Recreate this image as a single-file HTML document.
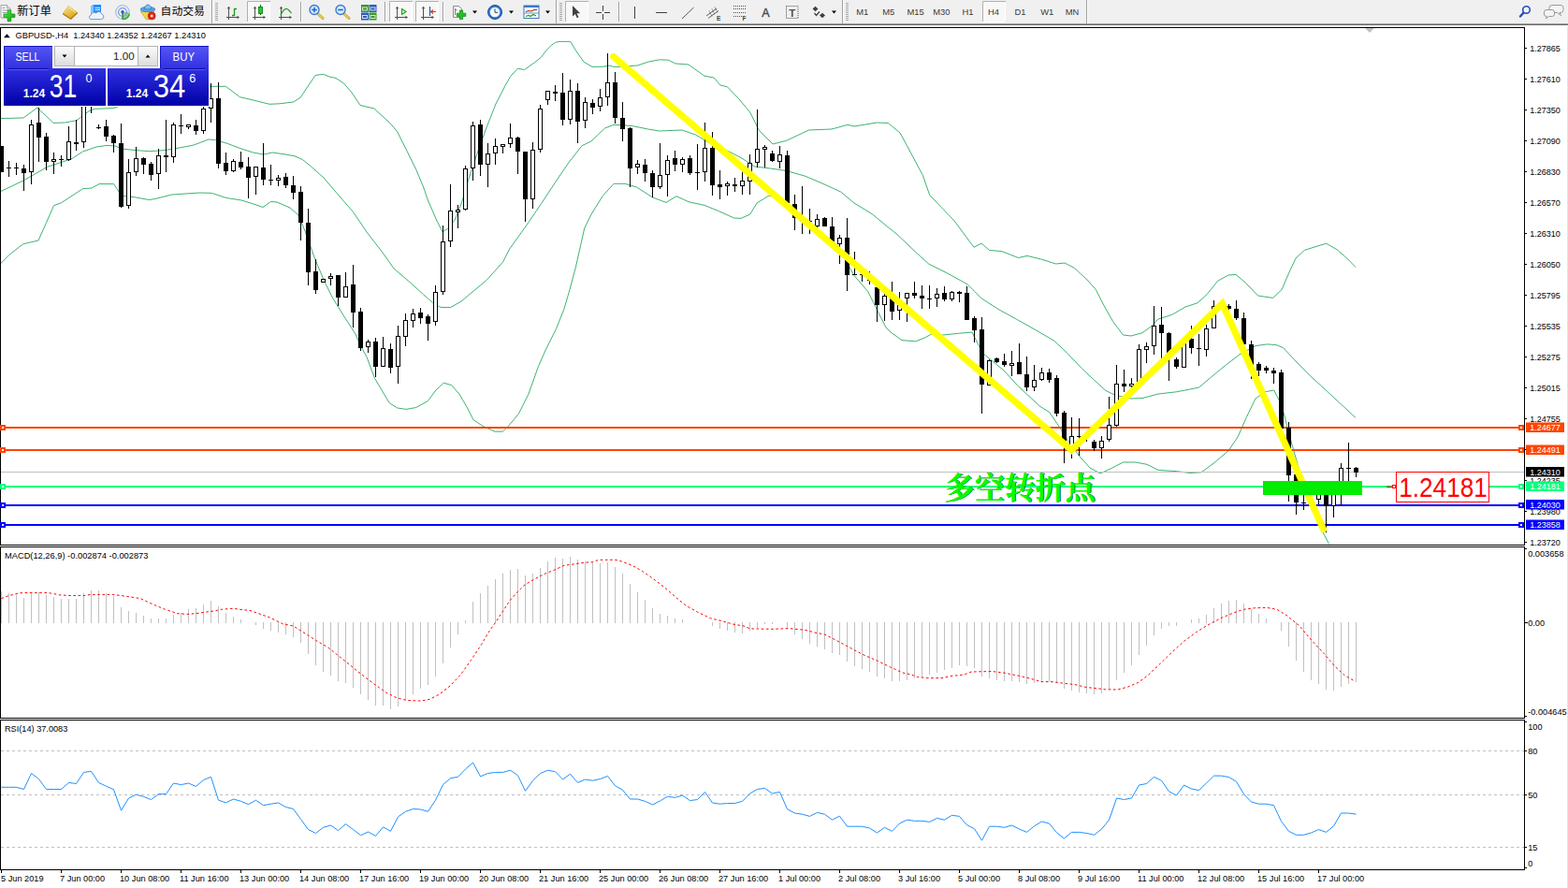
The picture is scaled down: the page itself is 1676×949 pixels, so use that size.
<!DOCTYPE html>
<html><head><meta charset="utf-8"><title>GBPUSD H4</title>
<style>html,body{margin:0;padding:0;background:#fff}body{width:1676px;height:949px;overflow:hidden;position:relative;font-family:"Liberation Sans",sans-serif}svg{position:absolute;left:0;top:0;display:block}</style>
</head><body>
<svg width="1676" height="949" viewBox="0 0 1676 949" font-family="Liberation Sans, sans-serif">
<rect x="0" y="0" width="1676" height="949" fill="#fff"/><g fill="none" stroke="#3cb371" stroke-width="1" stroke-linejoin="round"><polyline points="0.0,126.6 25.0,126.0 40.0,115.0 57.0,131.4 69.5,131.0 82.0,128.7 95.0,118.7 101.0,116.4 121.7,115.6 140.0,108.0 170.0,98.0 200.0,93.0 223.0,92.3 241.4,92.3 256.4,103.7 270.6,107.0 288.0,111.3 299.0,110.8 313.5,109.0 321.0,104.4 337.0,80.5 345.5,79.3 352.0,82.0 359.0,83.5 367.5,89.0 376.0,99.0 385.0,112.5 400.0,116.0 418.0,132.7 424.8,141.0 435.0,161.4 445.0,181.7 452.6,200.0 457.4,214.0 467.0,236.0 473.0,248.0 479.0,244.0 486.5,234.5 494.0,215.0 501.0,191.0 510.8,161.8 520.5,135.0 530.0,111.0 540.0,91.5 545.7,81.5 553.4,73.2 560.5,74.5 571.5,66.7 578.2,61.4 584.0,53.8 589.2,48.5 593.5,45.4 598.2,44.4 609.7,44.4 615.4,53.8 624.0,66.2 633.0,71.4 645.0,71.2 651.7,70.0 655.5,71.4 663.0,71.4 681.3,70.0 692.7,66.2 704.7,63.8 714.4,64.2 721.7,67.9 736.0,69.0 753.0,81.2 763.0,83.0 770.0,91.0 777.4,92.8 789.5,105.4 801.7,120.0 811.4,139.4 826.0,154.0 840.5,150.3 864.7,139.0 889.0,138.0 906.0,133.3 913.0,135.0 937.4,131.0 949.5,131.6 962.0,142.0 969.5,155.8 986.4,187.4 993.7,208.5 1020.0,235.9 1041.0,264.3 1049.0,260.0 1057.6,267.5 1070.6,268.5 1088.5,275.5 1098.0,273.4 1112.8,277.0 1128.6,282.0 1138.0,281.0 1148.6,286.5 1163.0,300.0 1171.4,309.7 1180.0,326.7 1189.6,343.6 1200.5,358.0 1209.0,359.0 1221.0,355.7 1230.8,348.5 1238.0,341.0 1252.6,336.4 1267.0,328.0 1280.0,323.8 1290.0,314.7 1301.6,300.3 1313.0,294.0 1321.0,293.4 1331.8,302.6 1344.5,316.0 1360.7,318.4 1370.0,309.6 1378.0,291.0 1385.0,276.0 1394.4,267.4 1406.0,263.7 1417.6,260.2 1429.0,266.7 1440.8,277.0 1449.0,285.7"/><polyline points="0.0,204.9 25.0,193.0 50.6,178.3 76.0,170.0 88.5,162.0 103.0,157.0 114.0,155.4 123.0,156.0 130.0,159.0 145.0,160.6 160.0,161.7 175.8,160.6 191.6,158.0 207.0,155.0 223.0,149.0 229.5,149.5 242.0,153.0 258.0,159.0 270.6,163.0 281.7,165.0 291.0,163.0 302.0,164.5 315.0,166.8 323.6,170.7 333.7,179.0 346.0,190.0 360.5,207.0 377.4,226.4 392.0,248.0 409.0,270.0 421.0,287.0 438.0,301.5 452.6,314.8 462.3,323.3 469.5,327.7 472.0,328.5 481.7,328.5 493.0,322.0 508.0,309.5 520.6,299.0 537.5,280.0 544.7,266.0 564.0,239.0 578.6,217.5 593.0,195.7 607.7,174.0 622.0,155.7 632.0,151.0 646.5,137.0 656.0,133.3 675.6,134.5 692.6,138.0 704.7,140.0 729.0,139.0 743.5,144.0 758.0,152.7 777.4,161.0 792.0,168.5 806.5,178.0 823.5,180.0 840.5,182.5 860.0,188.0 879.0,196.0 898.6,205.0 913.0,217.0 932.6,229.0 947.0,241.0 959.0,250.6 980.0,270.6 992.7,282.0 1012.6,292.0 1034.4,304.0 1049.0,318.8 1068.0,331.0 1087.7,341.8 1107.0,352.7 1126.5,364.0 1141.0,377.6 1155.6,393.0 1170.0,406.6 1182.0,417.5 1192.0,422.4 1209.0,426.0 1221.0,425.5 1238.0,421.0 1257.4,418.8 1272.0,416.0 1281.7,414.0 1296.0,401.8 1310.8,389.7 1325.0,378.8 1342.0,369.6 1354.4,367.9 1364.0,368.6 1371.4,371.5 1386.0,387.0 1400.5,401.8 1412.6,412.7 1429.0,427.9 1449.0,446.4"/><polyline points="0.0,282.5 9.6,272.6 24.7,260.8 41.0,257.0 49.3,238.4 57.5,219.7 65.6,216.7 88.5,201.7 98.0,201.0 106.0,196.6 121.7,196.6 126.4,204.0 131.0,209.6 142.0,210.4 159.6,213.6 168.0,212.0 183.7,208.0 213.7,206.0 226.4,206.4 242.0,211.5 258.0,214.0 270.6,217.8 281.0,221.5 289.6,215.4 296.0,216.0 310.0,222.0 319.0,230.0 326.5,248.0 336.0,275.0 346.0,299.0 355.6,318.5 367.7,338.0 380.0,357.0 384.7,368.0 392.0,381.5 400.5,404.3 416.3,430.7 424.8,436.0 434.2,437.4 444.8,435.5 457.4,428.5 465.9,417.0 474.3,409.2 482.7,411.7 491.0,421.2 499.6,436.0 505.9,448.6 516.4,455.5 529.0,461.2 537.5,461.2 543.8,454.9 554.4,442.2 564.9,421.2 575.4,391.7 583.8,372.7 594.4,351.6 602.8,330.6 609.0,309.5 615.5,285.0 624.7,244.0 632.0,229.0 644.0,209.7 656.0,196.3 668.0,196.3 680.5,200.0 697.4,210.9 712.0,216.4 723.0,209.7 736.0,215.7 753.0,219.4 767.7,225.4 784.7,233.0 792.0,233.4 801.7,229.0 809.0,217.0 822.0,209.0 840.0,215.0 860.0,235.0 880.0,250.0 903.5,277.5 913.0,294.5 927.7,311.5 937.4,331.0 947.0,350.0 952.0,355.0 964.0,363.6 978.7,364.8 988.4,361.0 995.6,357.0 1007.7,358.0 1024.7,356.3 1039.0,355.0 1045.0,367.0 1051.0,378.0 1058.6,384.0 1073.0,396.0 1087.7,412.0 1102.0,425.4 1112.0,434.5 1121.7,440.6 1130.0,452.7 1141.0,470.0 1153.0,486.6 1165.0,500.0 1176.0,506.0 1187.0,501.0 1200.5,494.0 1213.8,494.0 1226.0,496.3 1238.0,502.4 1257.4,503.6 1272.0,505.5 1284.0,504.8 1296.0,496.0 1313.0,481.8 1323.0,467.0 1332.6,445.4 1342.0,426.0 1352.0,418.8 1361.7,417.0 1367.7,428.5 1372.6,443.0 1378.7,466.9 1385.8,492.0 1390.8,508.4 1400.0,535.0 1413.5,568.0 1420.6,581.4"/></g><rect x="1" y="504" width="1628" height="1" fill="#c0c0c0"/><rect x="1" y="456" width="1628" height="2" fill="#ff4500"/><rect x="1" y="480" width="1628" height="2" fill="#ff4500"/><rect x="1" y="519" width="1628" height="2" fill="#00ff7f"/><rect x="1" y="539" width="1628" height="2" fill="#0000ff"/><rect x="1" y="560" width="1628" height="2" fill="#0000ff"/><g shape-rendering="crispEdges"><path d="M1.5 156V184M9.5 172V189M17.5 174V187M25.5 176V204M33.5 128V197M41.5 115V173M49.5 142V182M57.5 163V186M65.5 166V178M73.5 135V172M81.5 128V161M89.5 105V158M97.5 100V121M105.5 133V138M113.5 128V151M121.5 144V163M129.5 132V222M137.5 170V223M145.5 157V188M153.5 168V186M161.5 173V193M169.5 159V202M177.5 128V184M185.5 131V174M193.5 122V143M201.5 133V138M209.5 128V144M217.5 112V143M225.5 89V131M233.5 88V180M241.5 163V187M249.5 170V184M257.5 162V181M265.5 168V212M273.5 178V208M281.5 153V198M289.5 176V198M297.5 187V199M305.5 185V201M313.5 188V213M321.5 199V257M329.5 223V305M337.5 277V314M345.5 298V302M353.5 292V305M361.5 294V327M369.5 291V318M377.5 283V350M385.5 329V375M393.5 363V377M401.5 361V403M409.5 360V392M417.5 367V399M425.5 348V410M433.5 335V370M441.5 330V350M449.5 329V346M457.5 336V364M465.5 305V348M473.5 241V315M481.5 197V264M489.5 219V244M497.5 177V225M505.5 130V193M513.5 128V188M521.5 153V200M529.5 148V176M537.5 154V164M545.5 132V158M553.5 146V186M561.5 162V237M569.5 152V223M577.5 112V163M585.5 97V112M593.5 91V108M601.5 78V134M609.5 85V133M617.5 89V153M625.5 104V137M633.5 106V122M641.5 95V119M649.5 57V113M657.5 77V132M665.5 109V151M673.5 136V200M681.5 171V186M689.5 170V194M697.5 182V211M705.5 153V202M713.5 166V210M721.5 161V183M729.5 168V184M737.5 166V187M745.5 154V203M753.5 131V194M761.5 141V209M769.5 182V213M777.5 194V209M785.5 190V205M793.5 184V208M801.5 165V208M809.5 117V179M817.5 155V179M825.5 161V173M833.5 156V180M841.5 161V219M849.5 208V246M857.5 199V250M865.5 223V250M873.5 229V244M881.5 232V242M889.5 232V259M897.5 251V282M905.5 233V311M913.5 269V294M921.5 287V301M929.5 290V304M937.5 305V344M945.5 312V343M953.5 301V342M961.5 312V342M969.5 313V344M977.5 301V319M985.5 305V330M993.5 305V330M1001.5 308V328M1009.5 306V322M1017.5 311V322M1025.5 311V323M1033.5 306V342M1041.5 338V366M1049.5 339V442M1057.5 384V412M1065.5 382V388M1073.5 378V392M1081.5 375V402M1089.5 367V400M1097.5 381V418M1105.5 390V418M1113.5 393V407M1121.5 394V409M1129.5 401V445M1137.5 439V495M1145.5 446V490M1153.5 447V487M1161.5 462V472M1169.5 470V482M1177.5 466V490M1185.5 424V472M1193.5 390V456M1201.5 395V419M1209.5 404V416M1217.5 368V410M1225.5 366V388M1233.5 327V379M1241.5 328V384M1249.5 355V407M1257.5 382V394M1265.5 361V393M1273.5 348V378M1281.5 357V391M1289.5 347V381M1297.5 321V351M1305.5 322V328M1313.5 325V331M1321.5 321V342M1329.5 334V368M1337.5 364V405M1345.5 387V402M1353.5 391V399M1361.5 393V410M1369.5 395V458M1377.5 451V536M1385.5 505V550M1393.5 529V545M1401.5 530V538M1409.5 518V539M1417.5 518V569M1425.5 522V553M1433.5 495V540M1441.5 473V514M1449.5 499V510" stroke="#000" stroke-width="1" fill="none"/><path d="M-1 156h5V184h-5zM23 180h5V185h-5zM39 131h5V147h-5zM47 146h5V173h-5zM79 152h5V154h-5zM111 135h5V146h-5zM119 145h5V153h-5zM127 153h5V221h-5zM151 169h5V176h-5zM159 175h5V187h-5zM175 166h5V168h-5zM207 134h5V140h-5zM231 105h5V175h-5zM239 174h5V183h-5zM255 173h5V179h-5zM263 178h5V190h-5zM279 179h5V192h-5zM303 189h5V198h-5zM311 198h5V206h-5zM319 205h5V238h-5zM327 238h5V291h-5zM335 290h5V310h-5zM359 294h5V318h-5zM375 304h5V334h-5zM383 333h5V372h-5zM399 365h5V392h-5zM415 373h5V393h-5zM447 334h5V340h-5zM455 338h5V346h-5zM511 133h5V176h-5zM551 147h5V162h-5zM559 162h5V213h-5zM591 98h5V100h-5zM599 99h5V128h-5zM615 97h5V130h-5zM631 110h5V115h-5zM655 88h5V126h-5zM663 126h5V138h-5zM671 137h5V180h-5zM687 176h5V185h-5zM695 185h5V200h-5zM719 169h5V176h-5zM735 169h5V185h-5zM759 158h5V198h-5zM767 197h5V200h-5zM783 197h5V199h-5zM823 164h5V172h-5zM839 166h5V217h-5zM847 218h5V233h-5zM879 233h5V242h-5zM887 242h5V258h-5zM903 254h5V294h-5zM935 307h5V326h-5zM951 317h5V333h-5zM975 313h5V316h-5zM983 316h5V319h-5zM1007 313h5V320h-5zM1023 312h5V314h-5zM1031 313h5V342h-5zM1039 340h5V353h-5zM1047 352h5V411h-5zM1063 383h5V387h-5zM1071 386h5V390h-5zM1087 387h5V400h-5zM1095 400h5V414h-5zM1119 398h5V406h-5zM1127 404h5V442h-5zM1135 441h5V475h-5zM1167 472h5V479h-5zM1199 410h5V413h-5zM1239 347h5V356h-5zM1247 356h5V378h-5zM1255 384h5V392h-5zM1271 362h5V372h-5zM1311 327h5V330h-5zM1319 330h5V340h-5zM1327 340h5V368h-5zM1335 368h5V391h-5zM1343 389h5V396h-5zM1351 393h5V396h-5zM1359 396h5V399h-5zM1367 398h5V458h-5zM1375 457h5V508h-5zM1383 507h5V537h-5zM1415 520h5V541h-5zM1447 500h5V505h-5z" fill="#000"/><path d="M31.5 133.5h4V183.5h-4zM55.5 170.5h4V172.5h-4zM71.5 151.5h4V170.5h-4zM87.5 112.5h4V151.5h-4zM95.5 104.5h4V111.5h-4zM135.5 184.5h4V219.5h-4zM143.5 169.5h4V183.5h-4zM167.5 166.5h4V185.5h-4zM183.5 133.5h4V167.5h-4zM199.5 133.5h4V135.5h-4zM215.5 116.5h4V139.5h-4zM223.5 105.5h4V115.5h-4zM247.5 172.5h4V182.5h-4zM271.5 178.5h4V188.5h-4zM295.5 190.5h4V192.5h-4zM343.5 298.5h4V301.5h-4zM351.5 295.5h4V297.5h-4zM367.5 306.5h4V317.5h-4zM391.5 365.5h4V370.5h-4zM407.5 372.5h4V391.5h-4zM423.5 359.5h4V391.5h-4zM431.5 342.5h4V359.5h-4zM439.5 335.5h4V342.5h-4zM463.5 312.5h4V343.5h-4zM471.5 258.5h4V311.5h-4zM479.5 225.5h4V257.5h-4zM487.5 224.5h4V226.5h-4zM495.5 180.5h4V223.5h-4zM503.5 134.5h4V179.5h-4zM519.5 164.5h4V175.5h-4zM527.5 156.5h4V163.5h-4zM535.5 154.5h4V156.5h-4zM543.5 147.5h4V153.5h-4zM567.5 160.5h4V212.5h-4zM575.5 116.5h4V159.5h-4zM583.5 97.5h4V106.5h-4zM607.5 97.5h4V127.5h-4zM623.5 109.5h4V128.5h-4zM639.5 104.5h4V113.5h-4zM647.5 88.5h4V103.5h-4zM679.5 175.5h4V178.5h-4zM703.5 187.5h4V199.5h-4zM711.5 171.5h4V186.5h-4zM727.5 170.5h4V175.5h-4zM751.5 158.5h4V183.5h-4zM775.5 196.5h4V198.5h-4zM791.5 193.5h4V198.5h-4zM799.5 174.5h4V193.5h-4zM807.5 159.5h4V173.5h-4zM815.5 157.5h4V159.5h-4zM831.5 165.5h4V172.5h-4zM871.5 234.5h4V241.5h-4zM895.5 254.5h4V260.5h-4zM943.5 316.5h4V325.5h-4zM959.5 326.5h4V331.5h-4zM967.5 313.5h4V318.5h-4zM999.5 314.5h4V318.5h-4zM1015.5 312.5h4V319.5h-4zM1055.5 385.5h4V411.5h-4zM1079.5 388.5h4V390.5h-4zM1103.5 406.5h4V413.5h-4zM1111.5 398.5h4V405.5h-4zM1143.5 466.5h4V479.5h-4zM1175.5 471.5h4V478.5h-4zM1183.5 454.5h4V469.5h-4zM1191.5 410.5h4V454.5h-4zM1207.5 410.5h4V412.5h-4zM1215.5 373.5h4V409.5h-4zM1223.5 370.5h4V373.5h-4zM1231.5 348.5h4V369.5h-4zM1263.5 362.5h4V392.5h-4zM1287.5 351.5h4V373.5h-4zM1295.5 327.5h4V350.5h-4zM1407.5 520.5h4V533.5h-4zM1423.5 525.5h4V540.5h-4zM1431.5 500.5h4V528.5h-4z" fill="#fff" stroke="#000" stroke-width="1"/><path d="M7 179.5h5M15 179.5h5M63 170.5h5M103 136.5h5M191 134.5h5M287 192.5h5M743 184.5h5M855 236.5h5M863 236.5h5M911 293.5h5M919 293.5h5M927 299.5h5M991 319.5h5M1151 466.5h5M1159 465.5h5M1279 372.5h5M1303 325.5h5M1391 537.5h5M1399 533.5h5M1439 500.5h5" stroke="#000" stroke-width="1" fill="none"/></g><polyline points="655.6,60.6 1145.3,481 1306.5,324.5 1414.5,565.5" fill="none" stroke="#ffff00" stroke-width="7.2" stroke-linecap="round" stroke-linejoin="miter"/><rect x="1350" y="514" width="106" height="15" fill="#00ec00"/><text x="1010.3" y="533.2" font-family="'Liberation Serif', 'Noto Serif CJK SC', serif" font-size="32.3" font-weight="bold" fill="#0b4f0b" stroke="#0b4f0b" stroke-width="0.26" textLength="161.5" lengthAdjust="spacingAndGlyphs">多空转折点</text><text x="1009.6" y="532.5" font-family="'Liberation Serif', 'Noto Serif CJK SC', serif" font-size="32.3" font-weight="bold" fill="#00ff00" stroke="#00ff00" stroke-width="0.26" textLength="161.5" lengthAdjust="spacingAndGlyphs">多空转折点</text><rect x="1482" y="520" width="8" height="1" fill="#ff0000"/><rect x="1488.5" y="518.5" width="3" height="3" fill="#fff" stroke="#ff0000" stroke-width="1"/><rect x="1492.5" y="504.5" width="99" height="32" fill="#fff" stroke="#ff0000" stroke-width="1"/><text x="1542.5" y="530.8" font-family="Liberation Sans, sans-serif" font-size="28.6" fill="#ff0000" text-anchor="middle" textLength="94.5" lengthAdjust="spacingAndGlyphs">1.24181</text><g shape-rendering="crispEdges" fill="#000"><rect x="0" y="29" width="1630" height="1"/><rect x="0" y="29" width="1" height="901"/><rect x="1629" y="29" width="1" height="901"/><rect x="0" y="582" width="1630" height="1"/><rect x="0" y="583" width="1630" height="1" fill="#fff"/><rect x="0" y="584" width="1630" height="1"/><rect x="0" y="767" width="1630" height="1"/><rect x="0" y="768" width="1630" height="1" fill="#fff"/><rect x="0" y="769" width="1630" height="1"/><rect x="0" y="929" width="1630" height="1"/></g><rect x="0" y="454" width="6" height="6" fill="#ff4500" shape-rendering="crispEdges"/><rect x="2" y="456" width="2" height="2" fill="#fff" shape-rendering="crispEdges"/><rect x="1623" y="454" width="6" height="6" fill="#ff4500" shape-rendering="crispEdges"/><rect x="1625" y="456" width="2" height="2" fill="#fff" shape-rendering="crispEdges"/><rect x="0" y="478" width="6" height="6" fill="#ff4500" shape-rendering="crispEdges"/><rect x="2" y="480" width="2" height="2" fill="#fff" shape-rendering="crispEdges"/><rect x="1623" y="478" width="6" height="6" fill="#ff4500" shape-rendering="crispEdges"/><rect x="1625" y="480" width="2" height="2" fill="#fff" shape-rendering="crispEdges"/><rect x="0" y="517" width="6" height="6" fill="#00ff7f" shape-rendering="crispEdges"/><rect x="2" y="519" width="2" height="2" fill="#fff" shape-rendering="crispEdges"/><rect x="1623" y="517" width="6" height="6" fill="#00ff7f" shape-rendering="crispEdges"/><rect x="1625" y="519" width="2" height="2" fill="#fff" shape-rendering="crispEdges"/><rect x="0" y="537" width="6" height="6" fill="#0000ff" shape-rendering="crispEdges"/><rect x="2" y="539" width="2" height="2" fill="#fff" shape-rendering="crispEdges"/><rect x="1623" y="537" width="6" height="6" fill="#0000ff" shape-rendering="crispEdges"/><rect x="1625" y="539" width="2" height="2" fill="#fff" shape-rendering="crispEdges"/><rect x="0" y="558" width="6" height="6" fill="#0000ff" shape-rendering="crispEdges"/><rect x="2" y="560" width="2" height="2" fill="#fff" shape-rendering="crispEdges"/><rect x="1623" y="558" width="6" height="6" fill="#0000ff" shape-rendering="crispEdges"/><rect x="1625" y="560" width="2" height="2" fill="#fff" shape-rendering="crispEdges"/><path d="M1.5 632V666M9.5 634V666M17.5 636V666M25.5 639V666M33.5 634V666M41.5 633V666M49.5 636V666M57.5 638V666M65.5 640V666M73.5 640V666M81.5 640V666M89.5 634V666M97.5 631V666M105.5 631V666M113.5 634V666M121.5 637V666M129.5 649V666M137.5 653V666M145.5 655V666M153.5 658V666M161.5 661V666M169.5 661V666M177.5 661V666M185.5 657V666M193.5 655V666M201.5 651V666M209.5 650V666M217.5 646V666M225.5 642V666M233.5 648V666M241.5 655V666M249.5 659V666M257.5 662V666M273.5 665V668M281.5 665V672M289.5 665V674M297.5 665V676M305.5 665V678M313.5 665V681M321.5 665V687M329.5 665V699M337.5 665V711M345.5 665V718M353.5 665V722M361.5 665V728M369.5 665V730M377.5 665V735M385.5 665V742M393.5 665V748M401.5 665V754M409.5 665V754M417.5 665V758M425.5 665V755M433.5 665V748M441.5 665V742M449.5 665V736M457.5 665V732M465.5 665V723M473.5 665V709M481.5 665V692M489.5 665V678M497.5 663V666M505.5 643V666M513.5 634V666M521.5 626V666M529.5 619V666M537.5 613V666M545.5 609V666M553.5 608V666M561.5 615V666M569.5 613V666M577.5 607V666M585.5 600V666M593.5 596V666M601.5 597V666M609.5 595V666M617.5 598V666M625.5 600V666M633.5 601V666M641.5 602V666M649.5 601V666M657.5 606V666M665.5 613V666M673.5 624V666M681.5 633V666M689.5 641V666M697.5 650V666M705.5 656V666M713.5 658V666M721.5 661V666M729.5 662V666M761.5 665V669M769.5 665V672M777.5 665V674M785.5 665V676M793.5 665V677M801.5 665V674M809.5 665V671M817.5 665V667M825.5 665V667M841.5 665V671M849.5 665V678M857.5 665V683M865.5 665V688M873.5 665V691M881.5 665V694M889.5 665V698M897.5 665V700M905.5 665V707M913.5 665V712M921.5 665V715M929.5 665V718M937.5 665V723M945.5 665V725M953.5 665V728M961.5 665V728M969.5 665V727M977.5 665V725M985.5 665V724M993.5 665V721M1001.5 665V719M1009.5 665V716M1017.5 665V714M1025.5 665V711M1033.5 665V712M1041.5 665V714M1049.5 665V723M1057.5 665V725M1065.5 665V727M1073.5 665V728M1081.5 665V728M1089.5 665V729M1097.5 665V731M1105.5 665V730M1113.5 665V729M1121.5 665V728M1129.5 665V730M1137.5 665V736M1145.5 665V738M1153.5 665V740M1161.5 665V741M1169.5 665V742M1177.5 665V741M1185.5 665V737M1193.5 665V727M1201.5 665V719M1209.5 665V711M1217.5 665V700M1225.5 665V690M1233.5 665V679M1241.5 665V672M1249.5 665V669M1257.5 665V669M1273.5 662V666M1281.5 661V666M1289.5 657V666M1297.5 650V666M1305.5 645V666M1313.5 642V666M1321.5 641V666M1329.5 645V666M1337.5 651V666M1345.5 656V666M1353.5 661V666M1369.5 665V674M1377.5 665V691M1385.5 665V706M1393.5 665V718M1401.5 665V727M1409.5 665V731M1417.5 665V737M1425.5 665V738M1433.5 665V734M1441.5 665V731M1449.5 665V729" stroke="#c0c0c0" stroke-width="1" fill="none" shape-rendering="crispEdges"/><polyline points="1.5,639.6 9.5,636.5 22.0,633.7 33.0,633.4 51.0,633.4 64.0,635.9 75.0,636.5 90.5,636.5 97.0,635.4 121.4,635.4 137.0,637.6 150.0,639.6 163.4,645.8 176.6,651.3 190.0,655.7 201.0,656.4 212.0,655.3 220.8,654.0 229.6,652.9 236.2,651.3 249.4,650.2 256.0,651.3 267.0,652.4 278.0,656.2 289.0,660.2 302.4,666.8 313.5,669.0 322.3,674.5 337.7,684.4 351.0,692.2 362.0,701.0 373.0,709.8 386.5,720.9 399.7,730.8 413.0,740.3 424.0,745.8 435.0,748.5 450.5,749.0 459.0,747.4 470.0,741.8 481.0,733.0 492.5,720.9 503.5,705.4 514.5,688.9 523.0,674.5 530.0,664.6 536.6,654.6 545.0,641.8 552.0,633.7 561.0,624.8 569.7,619.8 580.8,613.8 592.0,609.4 603.0,604.3 614.0,602.8 625.0,601.2 633.7,600.6 640.0,598.3 658.0,598.3 664.6,600.0 675.7,604.3 686.7,610.5 700.0,619.8 713.0,630.0 722.0,638.0 733.0,647.0 746.5,654.6 759.7,660.8 770.8,663.5 784.0,667.2 795.0,669.0 801.7,671.9 826.0,672.3 843.6,671.6 861.0,673.4 872.0,676.3 881.0,677.8 894.0,684.4 907.6,691.7 923.0,699.9 938.5,706.5 951.8,713.0 965.0,719.0 974.0,720.9 980.5,723.5 991.5,724.6 1007.0,724.6 1015.8,722.6 1031.0,720.9 1038.0,718.0 1060.0,717.5 1073.0,719.0 1082.0,720.9 1091.0,722.6 1102.0,725.3 1113.0,728.6 1124.0,728.6 1135.0,730.0 1148.4,731.5 1161.7,734.6 1172.7,735.7 1181.5,736.8 1194.8,737.0 1205.8,734.0 1216.9,729.3 1227.9,720.9 1239.0,710.3 1252.0,697.7 1265.4,685.5 1278.7,675.6 1292.0,667.4 1305.0,660.6 1318.4,655.0 1329.4,651.3 1340.5,649.8 1353.7,649.3 1364.8,651.3 1375.8,658.0 1389.0,669.0 1402.0,684.4 1415.5,698.8 1426.6,712.0 1437.6,722.0 1446.4,727.0" fill="none" stroke="#ff0000" stroke-width="1" stroke-dasharray="2.6 2.6"/><path d="M1 802.5H1629" stroke="#c0c0c0" stroke-width="1" stroke-dasharray="3 3" shape-rendering="crispEdges"/><path d="M1 849.5H1629" stroke="#c0c0c0" stroke-width="1" stroke-dasharray="3 3" shape-rendering="crispEdges"/><path d="M1 905.5H1629" stroke="#c0c0c0" stroke-width="1" stroke-dasharray="3 3" shape-rendering="crispEdges"/><polyline points="1.5,841.3 9.5,841.3 17.5,841.3 25.5,843.5 33.5,826.5 41.5,832.5 49.5,843.5 57.5,843.5 65.5,843.5 73.5,836.4 81.5,837.5 89.5,825.4 97.5,824.3 105.5,836.4 113.5,840.2 121.5,843.7 129.5,866.2 137.5,853.0 145.5,849.2 153.5,851.4 161.5,854.5 169.5,848.6 177.5,848.6 185.5,837.0 193.5,838.6 201.5,837.0 209.5,840.4 217.5,833.6 225.5,830.3 233.5,855.2 241.5,857.8 249.5,854.0 257.5,856.3 265.5,859.6 273.5,855.2 281.5,860.7 289.5,859.2 297.5,858.0 305.5,862.5 313.5,864.5 321.5,875.5 329.5,886.5 337.5,890.5 345.5,884.3 353.5,882.0 361.5,887.6 369.5,880.6 377.5,886.5 385.5,892.7 393.5,889.0 401.5,893.4 409.5,883.9 417.5,888.3 425.5,872.9 433.5,867.3 441.5,864.5 449.5,865.0 457.5,867.3 465.5,855.2 473.5,838.6 481.5,831.6 489.5,830.3 497.5,822.0 505.5,815.0 513.5,829.8 521.5,826.5 529.5,825.4 537.5,825.4 545.5,823.2 553.5,828.7 561.5,845.3 569.5,834.2 577.5,826.5 585.5,823.2 593.5,824.7 601.5,833.0 609.5,827.2 617.5,836.4 625.5,833.0 633.5,834.2 641.5,832.5 649.5,829.4 657.5,839.7 665.5,844.2 673.5,854.0 681.5,854.0 689.5,856.3 697.5,860.0 705.5,855.9 713.5,851.2 721.5,852.3 729.5,850.0 737.5,855.6 745.5,854.5 753.5,846.4 761.5,858.0 769.5,859.2 777.5,858.5 785.5,858.5 793.5,856.3 801.5,848.0 809.5,843.5 817.5,842.4 825.5,848.0 833.5,846.4 841.5,864.7 849.5,869.0 857.5,870.2 865.5,872.4 873.5,868.4 881.5,870.2 889.5,876.2 897.5,872.2 905.5,883.2 913.5,883.2 921.5,883.2 929.5,885.0 937.5,890.0 945.5,884.3 953.5,888.3 961.5,880.0 969.5,876.2 977.5,877.3 985.5,877.3 993.5,878.4 1001.5,874.4 1009.5,876.2 1017.5,871.3 1025.5,872.4 1033.5,881.7 1041.5,885.7 1049.5,898.2 1057.5,883.2 1065.5,883.2 1073.5,884.3 1081.5,882.0 1089.5,886.0 1097.5,889.4 1105.5,882.8 1113.5,878.0 1121.5,880.0 1129.5,889.9 1137.5,896.0 1145.5,889.4 1153.5,889.4 1161.5,890.5 1169.5,892.3 1177.5,886.0 1185.5,876.2 1193.5,853.0 1201.5,854.5 1209.5,853.0 1217.5,839.0 1225.5,837.5 1233.5,830.3 1241.5,834.2 1249.5,845.9 1257.5,850.0 1265.5,839.0 1273.5,843.0 1281.5,844.6 1289.5,836.9 1297.5,829.1 1305.5,829.1 1313.5,830.5 1321.5,835.3 1329.5,848.6 1337.5,857.0 1345.5,859.2 1353.5,859.2 1361.5,860.7 1369.5,877.7 1377.5,888.3 1385.5,892.3 1393.5,892.3 1401.5,890.0 1409.5,886.5 1417.5,889.4 1425.5,882.8 1433.5,869.0 1441.5,869.0 1449.5,870.2" fill="none" stroke="#1e90ff" stroke-width="1" stroke-linejoin="round"/><g font-family="Liberation Sans, sans-serif" font-size="9.8" fill="#000"><text x="1635.2" y="54.8" textLength="32.7" lengthAdjust="spacingAndGlyphs">1.27865</text><text x="1635.2" y="87.8" textLength="32.7" lengthAdjust="spacingAndGlyphs">1.27610</text><text x="1635.2" y="120.8" textLength="32.7" lengthAdjust="spacingAndGlyphs">1.27350</text><text x="1635.2" y="153.8" textLength="32.7" lengthAdjust="spacingAndGlyphs">1.27090</text><text x="1635.2" y="186.8" textLength="32.7" lengthAdjust="spacingAndGlyphs">1.26830</text><text x="1635.2" y="219.8" textLength="32.7" lengthAdjust="spacingAndGlyphs">1.26570</text><text x="1635.2" y="252.8" textLength="32.7" lengthAdjust="spacingAndGlyphs">1.26310</text><text x="1635.2" y="285.8" textLength="32.7" lengthAdjust="spacingAndGlyphs">1.26050</text><text x="1635.2" y="318.8" textLength="32.7" lengthAdjust="spacingAndGlyphs">1.25795</text><text x="1635.2" y="351.8" textLength="32.7" lengthAdjust="spacingAndGlyphs">1.25535</text><text x="1635.2" y="384.8" textLength="32.7" lengthAdjust="spacingAndGlyphs">1.25275</text><text x="1635.2" y="417.8" textLength="32.7" lengthAdjust="spacingAndGlyphs">1.25015</text><text x="1635.2" y="450.8" textLength="32.7" lengthAdjust="spacingAndGlyphs">1.24755</text><text x="1635.2" y="483.8" textLength="32.7" lengthAdjust="spacingAndGlyphs">1.24495</text><text x="1635.2" y="516.8" textLength="32.7" lengthAdjust="spacingAndGlyphs">1.24235</text><text x="1635.2" y="549.8" textLength="32.7" lengthAdjust="spacingAndGlyphs">1.23980</text><text x="1635.2" y="582.8" textLength="32.7" lengthAdjust="spacingAndGlyphs">1.23720</text></g><path d="M1630 51.5h2M1630 84.5h2M1630 117.5h2M1630 150.5h2M1630 183.5h2M1630 216.5h2M1630 249.5h2M1630 282.5h2M1630 315.5h2M1630 348.5h2M1630 381.5h2M1630 414.5h2M1630 447.5h2M1630 480.5h2M1630 513.5h2M1630 546.5h2M1630 579.5h2M1630 586.5h2M1630 665.5h3M1630 765.5h2M1630 771.5h2M1630 802.5h2M1630 849.5h2M1630 905.5h2M1630 927.5h2" stroke="#000" stroke-width="1" shape-rendering="crispEdges"/><g font-family="Liberation Sans, sans-serif" font-size="9.2" fill="#000"><text x="1633.2" y="595" font-size="9.8" textLength="38.37" lengthAdjust="spacingAndGlyphs" >0.003658</text><text x="1633.2" y="668.5" font-size="9.8" textLength="17.90" lengthAdjust="spacingAndGlyphs" >0.00</text><text x="1633.2" y="763.8" font-size="9.8" textLength="41.43" lengthAdjust="spacingAndGlyphs" >-0.004645</text><text x="1633.2" y="779.5" font-size="9.8" textLength="15.35" lengthAdjust="spacingAndGlyphs" >100</text><text x="1633.2" y="805.5" font-size="9.8" textLength="10.23" lengthAdjust="spacingAndGlyphs" >80</text><text x="1633.2" y="852.5" font-size="9.8" textLength="10.23" lengthAdjust="spacingAndGlyphs" >50</text><text x="1633.2" y="908.8" font-size="9.8" textLength="10.23" lengthAdjust="spacingAndGlyphs" >15</text><text x="1633.2" y="926" font-size="9.8" textLength="5.12" lengthAdjust="spacingAndGlyphs" >0</text></g><rect x="1631" y="451.5" width="41" height="10.5" fill="#ff4500"/><text x="1635.2" y="460.2" font-family="Liberation Sans, sans-serif" font-size="9.8" fill="#fff" textLength="32.7" lengthAdjust="spacingAndGlyphs">1.24677</text><rect x="1631" y="475.5" width="41" height="10.5" fill="#ff4500"/><text x="1635.2" y="484.2" font-family="Liberation Sans, sans-serif" font-size="9.8" fill="#fff" textLength="32.7" lengthAdjust="spacingAndGlyphs">1.24491</text><rect x="1631" y="499.0" width="41" height="10.5" fill="#000"/><text x="1635.2" y="507.7" font-family="Liberation Sans, sans-serif" font-size="9.8" fill="#fff" textLength="32.7" lengthAdjust="spacingAndGlyphs">1.24310</text><rect x="1631" y="514.5" width="41" height="10.5" fill="#00ff7f"/><text x="1635.2" y="523.2" font-family="Liberation Sans, sans-serif" font-size="9.8" fill="#fff" textLength="32.7" lengthAdjust="spacingAndGlyphs">1.24181</text><rect x="1631" y="534.0" width="41" height="10.5" fill="#0000ff"/><text x="1635.2" y="542.7" font-family="Liberation Sans, sans-serif" font-size="9.8" fill="#fff" textLength="32.7" lengthAdjust="spacingAndGlyphs">1.24030</text><rect x="1631" y="555.5" width="41" height="10.5" fill="#0000ff"/><text x="1635.2" y="564.2" font-family="Liberation Sans, sans-serif" font-size="9.8" fill="#fff" textLength="32.7" lengthAdjust="spacingAndGlyphs">1.23858</text><g font-family="Liberation Sans, sans-serif" font-size="9.2" fill="#000"><text x="1" y="942" font-size="9.8" textLength="45.52" lengthAdjust="spacingAndGlyphs" >5 Jun 2019</text><text x="64" y="942" font-size="9.8" textLength="48.08" lengthAdjust="spacingAndGlyphs" >7 Jun 00:00</text><text x="128" y="942" font-size="9.8" textLength="53.20" lengthAdjust="spacingAndGlyphs" >10 Jun 08:00</text><text x="192" y="942" font-size="9.8" textLength="52.51" lengthAdjust="spacingAndGlyphs" >11 Jun 16:00</text><text x="256" y="942" font-size="9.8" textLength="53.20" lengthAdjust="spacingAndGlyphs" >13 Jun 00:00</text><text x="320" y="942" font-size="9.8" textLength="53.20" lengthAdjust="spacingAndGlyphs" >14 Jun 08:00</text><text x="384" y="942" font-size="9.8" textLength="53.20" lengthAdjust="spacingAndGlyphs" >17 Jun 16:00</text><text x="448" y="942" font-size="9.8" textLength="53.20" lengthAdjust="spacingAndGlyphs" >19 Jun 00:00</text><text x="512" y="942" font-size="9.8" textLength="53.20" lengthAdjust="spacingAndGlyphs" >20 Jun 08:00</text><text x="576" y="942" font-size="9.8" textLength="53.20" lengthAdjust="spacingAndGlyphs" >21 Jun 16:00</text><text x="640" y="942" font-size="9.8" textLength="53.20" lengthAdjust="spacingAndGlyphs" >25 Jun 00:00</text><text x="704" y="942" font-size="9.8" textLength="53.20" lengthAdjust="spacingAndGlyphs" >26 Jun 08:00</text><text x="768" y="942" font-size="9.8" textLength="53.20" lengthAdjust="spacingAndGlyphs" >27 Jun 16:00</text><text x="832" y="942" font-size="9.8" textLength="45.01" lengthAdjust="spacingAndGlyphs" >1 Jul 00:00</text><text x="896" y="942" font-size="9.8" textLength="45.01" lengthAdjust="spacingAndGlyphs" >2 Jul 08:00</text><text x="960" y="942" font-size="9.8" textLength="45.01" lengthAdjust="spacingAndGlyphs" >3 Jul 16:00</text><text x="1024" y="942" font-size="9.8" textLength="45.01" lengthAdjust="spacingAndGlyphs" >5 Jul 00:00</text><text x="1088" y="942" font-size="9.8" textLength="45.01" lengthAdjust="spacingAndGlyphs" >8 Jul 08:00</text><text x="1152" y="942" font-size="9.8" textLength="45.01" lengthAdjust="spacingAndGlyphs" >9 Jul 16:00</text><text x="1216" y="942" font-size="9.8" textLength="49.44" lengthAdjust="spacingAndGlyphs" >11 Jul 00:00</text><text x="1280" y="942" font-size="9.8" textLength="50.12" lengthAdjust="spacingAndGlyphs" >12 Jul 08:00</text><text x="1344" y="942" font-size="9.8" textLength="50.12" lengthAdjust="spacingAndGlyphs" >15 Jul 16:00</text><text x="1408" y="942" font-size="9.8" textLength="50.12" lengthAdjust="spacingAndGlyphs" >17 Jul 00:00</text></g><path d="M1.5 930v3M65.5 930v3M129.5 930v3M193.5 930v3M257.5 930v3M321.5 930v3M385.5 930v3M449.5 930v3M513.5 930v3M577.5 930v3M641.5 930v3M705.5 930v3M769.5 930v3M833.5 930v3M897.5 930v3M961.5 930v3M1025.5 930v3M1089.5 930v3M1153.5 930v3M1217.5 930v3M1281.5 930v3M1345.5 930v3M1409.5 930v3" stroke="#000" stroke-width="1" shape-rendering="crispEdges"/><g font-family="Liberation Sans, sans-serif" font-size="9.8" fill="#000"><text x="5" y="597.3" textLength="153.4" lengthAdjust="spacingAndGlyphs">MACD(12,26,9) -0.002874 -0.002873</text><text x="5" y="782" textLength="67.3" lengthAdjust="spacingAndGlyphs">RSI(14) 37.0083</text></g><path d="M1459 30h10l-5 5z" fill="#c0c0c0"/><rect x="1675" y="27" width="1" height="922" fill="#e4e4e4"/>
<rect x="0" y="0" width="1676" height="25" fill="#f0f0f0"/><rect x="0" y="25" width="1676" height="1" fill="#a0a0a0"/><rect x="0" y="26" width="1676" height="1" fill="#696969"/><rect x="0" y="27" width="1676" height="2" fill="#fff"/><defs><linearGradient id="gp" x1="0" y1="0" x2="1" y2="1"><stop offset="0" stop-color="#58f058"/><stop offset="1" stop-color="#0a980a"/></linearGradient><linearGradient id="gy" x1="0" y1="0" x2="0.6" y2="1"><stop offset="0" stop-color="#fbe884"/><stop offset="1" stop-color="#dba21c"/></linearGradient></defs><path d="M1 5.500h6.500l3.500 3.500v10h-10z" fill="#fdfdfd" stroke="#9a9a9a" stroke-width="0.9"/><path d="M7.500 5.500v3.500h3.500" fill="#e4e4e4" stroke="#9a9a9a" stroke-width="0.8"/><path d="M2.500 8.500h3M2.500 11h6M2.500 13.500h5" stroke="#9c9c9c" stroke-width="1.100"/><path d="M8.1 10.800h3.600v4.200h4.200v3.600h-4.200v4.200h-3.600v-4.200h-4.200v-3.600h4.200z" fill="url(#gp)" stroke="#0c8a0c" stroke-width="0.7"/><text x="18.3" y="16.2" font-family="'Liberation Sans', 'Noto Sans CJK SC', sans-serif" font-size="12.2" fill="#000" textLength="36.6" lengthAdjust="spacingAndGlyphs">新订单</text><path d="M73 6.200l10 7.400-7 7.200-9-6z" fill="#9a6a10"/><path d="M73 6.200l10 7.400-1.200 1.300-6.300 5.200-8.200-5.800z" fill="url(#gy)"/><path d="M67.300 14.700l8.300 5.500 7-6.500" stroke="#b07c14" stroke-width="1.300" fill="none"/><path d="M73.200 7.500l8 6" stroke="#fff6b8" stroke-width="0.9"/><path d="M97 6.500l3-1.500h8v9.500h-11z" fill="#1e90ff"/><path d="M97 6.500l3-1.500v9.500h-3z" fill="#7cc4ff"/><path d="M101.500 8.500h5.500M101.500 10.500h5.500" stroke="#d8ecff" stroke-width="1"/><path d="M97 20.600h11.500a2.800 2.800 0 0 0 0.500-5.400a3.600 3.600 0 0 0-6.400-1.200a3.200 3.200 0 0 0-5.300 2.200a2.300 2.300 0 0 0-0.300 4.400z" fill="#eef3fb" stroke="#6c8cc0" stroke-width="0.9"/><g fill="none"><path d="M131 13h7.800a7.800 7.800 0 0 1-7.800 7.800z" fill="#4cb04c" fill-opacity="0.55"/><circle cx="131" cy="13" r="7.300" stroke="#a9c0ea" stroke-width="1.300"/><circle cx="131" cy="13" r="4.400" stroke="#7d9be0" stroke-width="1.300"/><path d="M131 20.600a7.600 7.600 0 0 0 7.300-5.600" stroke="#3aa43a" stroke-width="1.500"/><path d="M131 13v7.600" stroke="#22a022" stroke-width="1.500"/><circle cx="131" cy="12.700" r="1.700" fill="#2a56d0"/></g><g><path d="M150.200 12l14.800 0-5 8.800h-3.800z" fill="#f6d24a" stroke="#c89a1c" stroke-width="0.7"/><ellipse cx="158" cy="10" rx="7.800" ry="2.700" fill="#58a6e4" stroke="#2c72bc" stroke-width="0.7"/><path d="M154.300 9.800c0-6.400 7.400-6.400 7.400 0z" fill="#7cc0f2" stroke="#2c72bc" stroke-width="0.7"/><circle cx="162.200" cy="17" r="4" fill="#e22a14" stroke="#a81408" stroke-width="0.6"/><rect x="161" y="15.800" width="2.400" height="2.400" fill="#fff"/></g><text x="171.6" y="16.2" font-family="'Liberation Sans', 'Noto Sans CJK SC', sans-serif" font-size="11.8" fill="#000" textLength="47.2" lengthAdjust="spacingAndGlyphs">自动交易</text><rect x="226" y="0" width="1" height="25" fill="#a0a0a0"/><rect x="227" y="0" width="1" height="25" fill="#fff"/><path d="M230 3.500h3M230 5.500h3M230 7.500h3M230 9.500h3M230 11.500h3M230 13.500h3M230 15.500h3M230 17.500h3M230 19.500h3M230 21.500h3" stroke="#a8a8a8" stroke-width="1" shape-rendering="crispEdges"/><path d="M244.500 8.500v12.500M242 18.500h13" stroke="#505050" stroke-width="1" fill="none"/><path d="M244.500 6.800l-1.800 2.500h3.600zM256 18.500l-2.500-1.800v3.600z" fill="#505050"/><path d="M250.500 9v8M250.500 9.500h2.500M248 16.500h2.500" stroke="#1a9a1a" stroke-width="1.300" fill="none"/><rect x="264" y="1" width="25" height="22" fill="#f8f8f8"/><path d="M264.500 23V1.500H289" stroke="#b0b0b0" fill="none"/><path d="M264.500 23.500H288.500V2" stroke="#fff" fill="none"/><path d="M272.500 8.500v12.500M270 18.500h13" stroke="#505050" stroke-width="1" fill="none"/><path d="M272.500 6.800l-1.800 2.500h3.600zM284 18.500l-2.500-1.800v3.600z" fill="#505050"/><path d="M278.500 5v11" stroke="#0a6a0a"/><rect x="276.500" y="7.500" width="4" height="7" fill="#28c828" stroke="#0a7a0a" stroke-width="0.8"/><path d="M300.500 8.500v12.500M298 18.500h13" stroke="#505050" stroke-width="1" fill="none"/><path d="M300.500 6.800l-1.800 2.500h3.600zM312 18.500l-2.500-1.800v3.600z" fill="#505050"/><path d="M300 16c2-4 4-7 6.500-6.500s3 3 5 4.500" stroke="#1a9a1a" stroke-width="1.200" fill="none"/><rect x="321" y="2" width="1" height="21" fill="#a0a0a0"/><rect x="322" y="2" width="1" height="21" fill="#fff"/><path d="M339.500 14.500l5.500 5" stroke="#c8a020" stroke-width="3" stroke-linecap="round"/><path d="M339.500 14.500l5.500 5" stroke="#f0d860" stroke-width="1.200" stroke-linecap="round"/><circle cx="336" cy="10.500" r="5" fill="#d8ecfc" stroke="#3a7ad0" stroke-width="1.400"/><path d="M333.200 10.500h5.600" stroke="#2a6ac8" stroke-width="1.600"/><path d="M336 7.700v5.600" stroke="#2a6ac8" stroke-width="1.600"/><path d="M367.500 14.500l5.500 5" stroke="#c8a020" stroke-width="3" stroke-linecap="round"/><path d="M367.500 14.500l5.500 5" stroke="#f0d860" stroke-width="1.200" stroke-linecap="round"/><circle cx="364" cy="10.500" r="5" fill="#d8ecfc" stroke="#3a7ad0" stroke-width="1.400"/><path d="M361.200 10.500h5.600" stroke="#2a6ac8" stroke-width="1.600"/><rect x="386" y="5" width="8" height="8" fill="#3a9a28"/><rect x="394.500" y="5" width="8" height="8" fill="#2a5ac8"/><rect x="386" y="13.500" width="8" height="8" fill="#2a5ac8"/><rect x="394.500" y="13.500" width="8" height="8" fill="#3a9a28"/><rect x="387.500" y="8" width="5" height="3" fill="none" stroke="#e8f0e8" stroke-width="0.9"/><rect x="396.000" y="8" width="5" height="3" fill="none" stroke="#e8f0e8" stroke-width="0.9"/><rect x="387.500" y="16.500" width="5" height="3" fill="none" stroke="#e8f0e8" stroke-width="0.9"/><rect x="396.000" y="16.500" width="5" height="3" fill="none" stroke="#e8f0e8" stroke-width="0.9"/><rect x="411" y="2" width="1" height="21" fill="#a0a0a0"/><rect x="412" y="2" width="1" height="21" fill="#fff"/><rect x="416" y="1" width="25" height="22" fill="#f8f8f8"/><path d="M416.500 23V1.500H441" stroke="#b0b0b0" fill="none"/><path d="M416.500 23.500H440.500V2" stroke="#fff" fill="none"/><path d="M424.500 8.500v12.500M422 18.500h13" stroke="#505050" stroke-width="1" fill="none"/><path d="M424.500 6.800l-1.800 2.500h3.600zM436 18.500l-2.500-1.800v3.600z" fill="#505050"/><path d="M429.500 9.500l4.500 3-4.500 3z" fill="#d8f8d8" stroke="#18a018" stroke-width="1.100"/><rect x="444" y="1" width="25" height="22" fill="#f8f8f8"/><path d="M444.500 23V1.500H469" stroke="#b0b0b0" fill="none"/><path d="M444.500 23.500H468.500V2" stroke="#fff" fill="none"/><path d="M452.500 8.500v12.500M450 18.500h13" stroke="#505050" stroke-width="1" fill="none"/><path d="M452.500 6.800l-1.800 2.500h3.600zM464 18.500l-2.500-1.800v3.600z" fill="#505050"/><path d="M459.500 7v10" stroke="#2a5ab8" stroke-width="1.200"/><path d="M466 12.500h-5m2-2l-2.500 2 2.500 2" stroke="#d04010" stroke-width="1.200" fill="none"/><rect x="473" y="2" width="1" height="21" fill="#a0a0a0"/><rect x="474" y="2" width="1" height="21" fill="#fff"/><path d="M484.500 6.500h6l3 3v9h-9z" fill="#fff" stroke="#8a8a8a"/><path d="M486.500 9v7M486.500 10.500h2" stroke="#707070" stroke-width="0.9" fill="none"/><path d="M9 11h4v4h4v4h-4v4h-4v-4h-4v-4h4z" transform="translate(484.2 2.2) scale(0.8)" fill="#22c022" stroke="#0a7a0a" stroke-width="0.8"/><path d="M505 11.500h5l-2.500 3z" fill="#000"/><circle cx="529" cy="13" r="7.500" fill="#2a78d8" stroke="#1a4aa0" stroke-width="1"/><circle cx="529" cy="13" r="5.300" fill="#f4f8fc"/><path d="M529 9.500v3.800h3" stroke="#404040" stroke-width="1" fill="none"/><path d="M544 11.500h5l-2.500 3z" fill="#000"/><rect x="560" y="6" width="16" height="13.500" fill="#fff" stroke="#3a78c8" stroke-width="1"/><rect x="560" y="6" width="16" height="2" fill="#3a78c8"/><path d="M562 12.500l3-1 3 0.500 3-1.500 3 0" stroke="#a02810" stroke-width="1.200" fill="none"/><path d="M560 14h16" stroke="#3a78c8" stroke-width="0.8"/><path d="M562 17.500l3-1 2 1 3-2 3 1.500" stroke="#1a9a1a" stroke-width="1.200" fill="none"/><path d="M583 11.500h5l-2.500 3z" fill="#000"/><rect x="594" y="0" width="1" height="25" fill="#a0a0a0"/><rect x="595" y="0" width="1" height="25" fill="#fff"/><path d="M598 3.500h3M598 5.500h3M598 7.500h3M598 9.500h3M598 11.500h3M598 13.500h3M598 15.500h3M598 17.500h3M598 19.500h3M598 21.500h3" stroke="#a8a8a8" stroke-width="1" shape-rendering="crispEdges"/><rect x="604" y="1" width="25" height="22" fill="#f8f8f8"/><path d="M604.500 23V1.500H629" stroke="#b0b0b0" fill="none"/><path d="M604.500 23.500H628.500V2" stroke="#fff" fill="none"/><path d="M612 6v11.500l2.800-2.600 2 4.300 1.700-0.800-2-4.200h3.700z" fill="#404040"/><path d="M644.500 6v6M644.500 15v6M637 13.500h6M646 13.500h6" stroke="#404040" stroke-width="1" fill="none"/><rect x="661" y="2" width="1" height="21" fill="#a0a0a0"/><rect x="662" y="2" width="1" height="21" fill="#fff"/><path d="M678.500 7v13" stroke="#404040" stroke-width="1"/><path d="M701 13.500h12" stroke="#404040" stroke-width="1"/><path d="M729 20l12.500-12" stroke="#505050" stroke-width="0.950"/><g stroke="#505050" stroke-width="0.9" fill="none"><path d="M755 17l11-8M757 19.500l11-8"/><path d="M758 11.500l3 6M761 9.500l3 6M764 7.500l3 6" stroke-dasharray="1 0.6"/></g><text x="766" y="22" font-family="Liberation Sans, sans-serif" font-size="6.500" font-weight="bold" fill="#404040">E</text><path d="M784 6.500h13M784 9.500h13M784 13.500h13M784 17.500h9" stroke="#505050" stroke-width="1" stroke-dasharray="1 1" fill="none"/><text x="793.5" y="22" font-family="Liberation Sans, sans-serif" font-size="6.500" font-weight="bold" fill="#404040">F</text><text x="818.5" y="18" font-family="Liberation Sans, sans-serif" font-size="12.600" fill="#4a4a4a" stroke="#4a4a4a" stroke-width="0.350" text-anchor="middle">A</text><rect x="840.500" y="6.500" width="12.500" height="13" fill="none" stroke="#505050" stroke-dasharray="1 1"/><text x="846.8" y="18" font-family="Liberation Sans, sans-serif" font-size="11.500" font-weight="bold" fill="#505050" text-anchor="middle">T</text><path d="M868.500 9.500l3-2.800 3 2.800-3 2.800zM876 16.500l3-2.800 3 2.800-3 2.800z" fill="#404040"/><path d="M870.500 14l2 2.500 3.500-4" stroke="#404040" stroke-width="1.300" fill="none"/><path d="M889 11.500h5l-2.500 3z" fill="#000"/><rect x="900" y="0" width="1" height="25" fill="#a0a0a0"/><rect x="901" y="0" width="1" height="25" fill="#fff"/><path d="M904 3.500h3M904 5.500h3M904 7.500h3M904 9.500h3M904 11.500h3M904 13.500h3M904 15.500h3M904 17.500h3M904 19.500h3M904 21.500h3" stroke="#a8a8a8" stroke-width="1" shape-rendering="crispEdges"/><rect x="1050" y="1" width="25" height="22" fill="#f8f8f8"/><path d="M1050.500 23V1.500H1075" stroke="#b0b0b0" fill="none"/><path d="M1050.500 23.500H1074.500V2" stroke="#fff" fill="none"/><g font-family="Liberation Sans, sans-serif" font-size="9.400" fill="#3a3a3a" text-anchor="middle"><text x="921.7" y="16.1">M1</text><text x="949.8" y="16.1">M5</text><text x="978.5" y="16.1">M15</text><text x="1006.4" y="16.1">M30</text><text x="1034.5" y="16.1">H1</text><text x="1062" y="16.1">H4</text><text x="1090.4" y="16.1">D1</text><text x="1119.2" y="16.1">W1</text><text x="1146" y="16.1">MN</text></g><rect x="1161" y="0" width="1" height="25" fill="#a0a0a0"/><rect x="1162" y="0" width="1" height="25" fill="#fff"/><path d="M1625 17.500l4-4.500" stroke="#2a4ab8" stroke-width="2.400" stroke-linecap="round"/><circle cx="1631.500" cy="10.500" r="3.800" fill="#eef4fc" stroke="#2a4ab8" stroke-width="1.600"/><g fill="#f4f4f4" stroke="#909090" stroke-width="0.9"><path d="M1659 5.500h9a3 3 0 0 1 3 3v2a3 3 0 0 1-3 3h-1l1.500 3-4-3h-5.500a3 3 0 0 1-3-3v-2a3 3 0 0 1 3-3z"/><path d="M1653 10.500h6a2.500 2.500 0 0 1 2.500 2.500v2a2.500 2.500 0 0 1-2.500 2.500h-3.500l-3 2.500 0.800-2.500a2.500 2.500 0 0 1-2.800-2.500v-2a2.500 2.500 0 0 1 2.500-2.500z"/></g><defs><linearGradient id="bg" x1="0" y1="0" x2="0" y2="1"><stop offset="0" stop-color="#5656f6"/><stop offset="0.45" stop-color="#2a2adc"/><stop offset="1" stop-color="#0000a6"/></linearGradient><linearGradient id="bt" x1="0" y1="0" x2="0" y2="1"><stop offset="0" stop-color="#fafafa"/><stop offset="1" stop-color="#dcdcdc"/></linearGradient></defs><rect x="3" y="30" width="222" height="18" fill="#fff"/><path d="M4 40.300l3.400-4 3.400 4z" fill="#000"/><text x="16.5" y="40.600" font-family="Liberation Sans, sans-serif" font-size="9.600" fill="#000" textLength="203.300" lengthAdjust="spacingAndGlyphs" xml:space="preserve">GBPUSD-,H4  1.24340 1.24352 1.24267 1.24310</text><rect x="3" y="48" width="221" height="66" fill="#fff"/><path d="M4 49h52v24h57v40h-109z" fill="url(#bg)"/><path d="M223 49h-52v24h-56v40h108z" fill="url(#bg)"/><path d="M8 73.500h44M175 73.500h44" stroke="#0c0ca6" stroke-width="1"/><path d="M8 74.500h44M175 74.500h44" stroke="#5a5aee" stroke-width="1"/><path d="M4.500 73V49.500H56M115.500 113V73.500M171.500 73V49.500H223" stroke="#1414c4" stroke-width="1" fill="none"/><rect x="58.500" y="49.500" width="110" height="21" fill="#fff" stroke="#b4b4b4"/><rect x="59" y="50" width="20" height="20" fill="url(#bt)"/><rect x="148" y="50" width="20" height="20" fill="url(#bt)"/><path d="M79.500 50v20M147.500 50v20" stroke="#b4b4b4"/><path d="M66.500 58.500h5l-2.500 3zM155.500 61.500h5l-2.500-3z" fill="#000"/><text x="143.6" y="64" font-family="Liberation Sans, sans-serif" font-size="11.600" fill="#222" text-anchor="end">1.00</text><g font-family="Liberation Sans, sans-serif" fill="#fff"><text x="29.500" y="64.800" font-size="12.300" text-anchor="middle" textLength="26" lengthAdjust="spacingAndGlyphs">SELL</text><text x="196.300" y="64.800" font-size="12.300" text-anchor="middle" textLength="23.500" lengthAdjust="spacingAndGlyphs">BUY</text><text x="24.700" y="104" font-size="12.100" font-weight="bold" textLength="23.500" lengthAdjust="spacingAndGlyphs">1.24</text><text x="52.800" y="104.300" font-size="34.500" textLength="29.500" lengthAdjust="spacingAndGlyphs">31</text><text x="91.500" y="88" font-size="12.300" textLength="7" lengthAdjust="spacingAndGlyphs">0</text><text x="134.700" y="104" font-size="12.100" font-weight="bold" textLength="23.500" lengthAdjust="spacingAndGlyphs">1.24</text><text x="163.800" y="104.300" font-size="34.500" textLength="34.500" lengthAdjust="spacingAndGlyphs">34</text><text x="202.200" y="88" font-size="12.300" textLength="7" lengthAdjust="spacingAndGlyphs">6</text></g>
</svg>
</body></html>
